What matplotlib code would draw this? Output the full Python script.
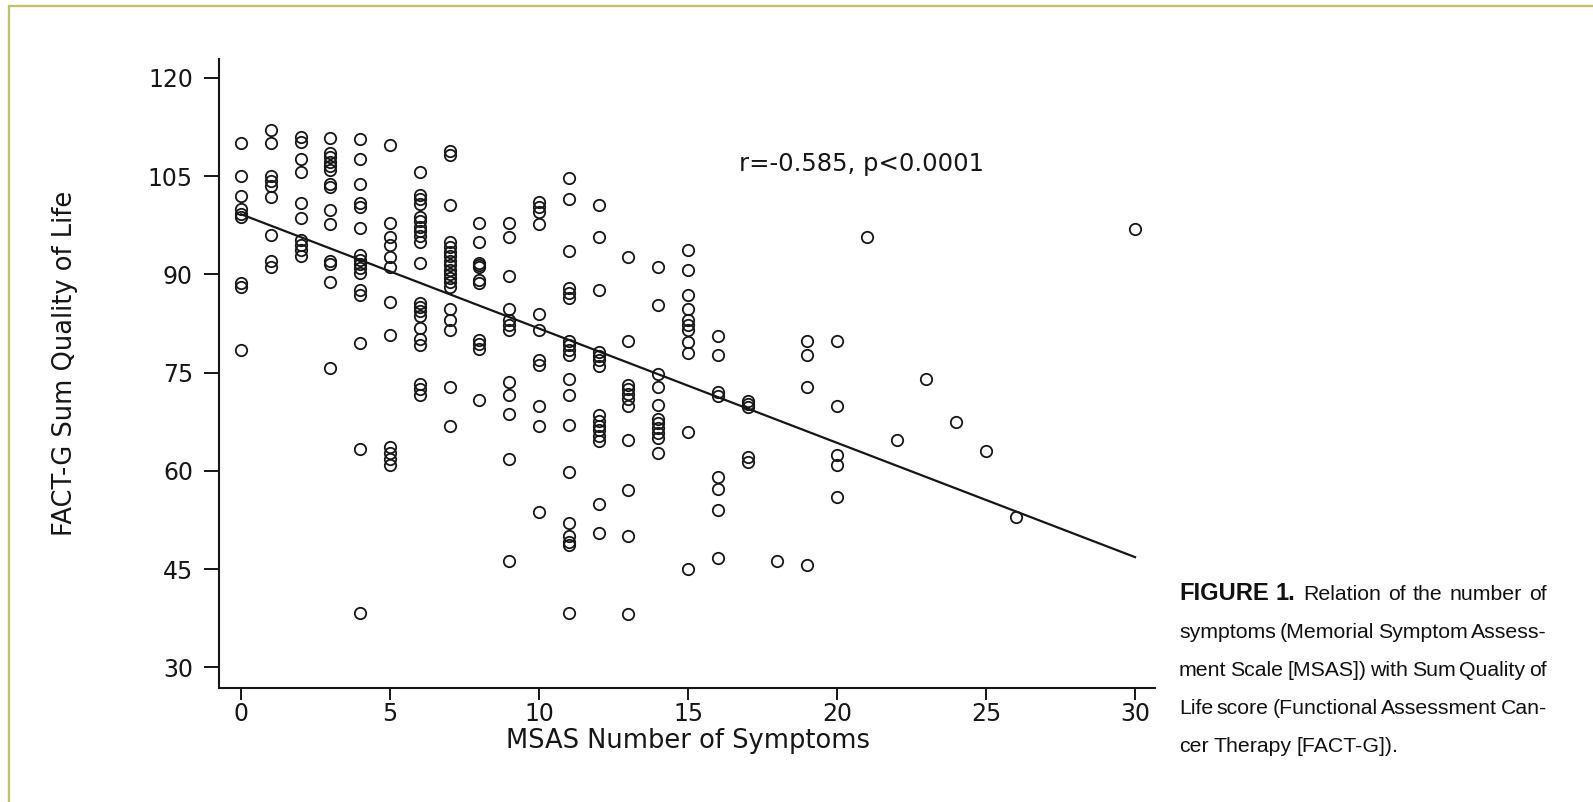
import matplotlib
matplotlib.use("Agg")
import matplotlib.pyplot as plt
from matplotlib import font_manager as fm
from matplotlib.lines import Line2D
import numpy as np

# ---------------- data ----------------
symptom_levels = [0, 1, 2, 3, 4, 5, 6, 7, 8, 9, 10, 11, 12, 13, 14, 15,
                  16, 17, 18, 19, 20, 21, 22, 23, 24, 25, 26, 30]

qol_groups = [
    [110, 105, 102, 100, 99.3, 98.8, 88.7, 88.1, 78.5],                       # 0
    [112, 110, 105, 104.3, 103.5, 101.8, 96, 92, 91.1],                       # 1
    [111, 110.2, 107.7, 105.6, 100.9, 98.7, 95.2, 94.5, 93.7, 92.8],          # 2
    [110.8, 108.5, 107.9, 107.2, 106.6, 105.9, 103.8, 103.3, 99.8, 97.7,
     92, 91.6, 88.8, 75.8],                                                   # 3
    [110.7, 107.7, 103.8, 100.9, 100.3, 97.1, 93, 92.2, 91.6, 91, 90.3,
     87.6, 86.9, 79.6, 63.4, 38.3],                                           # 4
    [109.8, 97.8, 95.8, 94.5, 92.7, 91.1, 85.8, 80.8, 63.6, 62.7, 61.8, 60.9],# 5
    [105.7, 102.1, 101.5, 100.8, 98.8, 98.1, 97.3, 96.7, 95.9, 95, 91.7,
     85.7, 85.1, 84.4, 83.7, 81.8, 80.1, 79.2, 73.3, 72.5, 71.6],             # 6
    [108.9, 108.2, 100.6, 95, 94.2, 93.5, 92.8, 92.1, 91.4, 90.7, 90, 89.4,
     88.8, 88.1, 84.7, 83.1, 81.5, 72.9, 66.9],                               # 7
    [97.8, 94.9, 91.8, 91.4, 91.1, 89.1, 88.7, 80, 79.4, 78.6, 70.8],         # 8
    [97.8, 95.7, 89.8, 84.8, 83.1, 82.3, 81.5, 73.6, 71.6, 68.7, 61.9, 46.2], # 9
    [101, 100.3, 99.6, 97.7, 84, 81.5, 77, 76.2, 69.9, 66.9, 53.8],           # 10
    [104.7, 101.6, 93.6, 87.9, 87.1, 86.4, 79.8, 79.2, 78.5, 77.7, 74, 71.6,
     67, 59.9, 52, 50, 49.2, 48.7, 38.3],                                     # 11
    [100.6, 95.7, 87.6, 78.2, 77.6, 76.9, 76.1, 68.5, 67.7, 66.9, 66.2,
     65.4, 64.6, 54.9, 50.5],                                                 # 12
    [92.7, 79.8, 73.1, 72.5, 71.8, 71, 69.9, 64.8, 57.1, 50.1, 38.2],         # 13
    [91.1, 85.3, 74.8, 72.8, 70.1, 68, 67.3, 66.5, 65.8, 65, 62.7],           # 14
    [93.7, 90.7, 86.9, 84.7, 83.1, 82.3, 81.5, 79.7, 78, 65.9, 45.1],         # 15
    [80.6, 77.7, 72.1, 71.5, 59.1, 57.2, 54, 46.7],                           # 16
    [70.7, 70.2, 69.7, 62.2, 61.4],                                           # 17
    [46.2],                                                                   # 18
    [79.8, 77.7, 72.8, 45.6],                                                 # 19
    [79.8, 69.9, 62.4, 60.9, 56.1],                                           # 20
    [95.7],                                                                   # 21
    [64.8],                                                                   # 22
    [74],                                                                     # 23
    [67.5],                                                                   # 24
    [63],                                                                     # 25
    [53],                                                                     # 26
    [96.9],                                                                   # 30
]

fit_intercept = 99.2
fit_slope = -1.745
fit_range = [0, 30]

x_ticks = [0, 5, 10, 15, 20, 25, 30]
y_ticks = [30, 45, 60, 75, 90, 105, 120]
x_label = "MSAS Number of Symptoms"
y_label = "FACT-G Sum Quality of Life"
stat_text = "r=-0.585, p<0.0001"
stat_pos = [16.7, 106.9]

caption_lead = "FIGURE 1."
caption_lines = [
    "Relation of the number of",
    "symptoms (Memorial Symptom Assess-",
    "ment Scale [MSAS]) with Sum Quality of",
    "Life score (Functional Assessment Can-",
    "cer Therapy [FACT-G]).",
]

# ---------------- figure ----------------
W, H, DPI = 1593, 802, 100
fig = plt.figure(figsize=(W / DPI, H / DPI), dpi=DPI)
fig.patch.set_facecolor("white")


def fx(px):
    return px / W


def fy(py):
    return 1 - py / H


ax_left, ax_right, ax_top, ax_bottom = 219, 1155, 59, 688
ax = fig.add_axes([fx(ax_left), fy(ax_bottom), (ax_right - ax_left) / W,
                   (ax_bottom - ax_top) / H])

ink = "#161616"
main_font = "DejaVu Sans"

xs = np.concatenate([np.full(len(g), lv) for lv, g in zip(symptom_levels, qol_groups)])
ys = np.concatenate([np.asarray(g, dtype=float) for g in qol_groups])

ax.plot(xs, ys, linestyle="none", marker="o", markersize=8.2,
        markerfacecolor="none", markeredgecolor=ink, markeredgewidth=1.3,
        zorder=3)

fx_line = np.array(fit_range, dtype=float)
ax.plot(fx_line, fit_intercept + fit_slope * fx_line, color=ink, linewidth=1.6,
        zorder=2)

ax.set_xlim(-0.74, 30.67)
ax.set_ylim(26.87, 122.9)
ax.set_xticks(x_ticks)
ax.set_yticks(y_ticks)
for s in ("top", "right"):
    ax.spines[s].set_visible(False)
for s in ("left", "bottom"):
    ax.spines[s].set_linewidth(1.5)
    ax.spines[s].set_color(ink)

ax.tick_params(axis="y", length=10.8, width=1.4, pad=8, labelsize=17,
               colors=ink, direction="out")
ax.tick_params(axis="x", length=8.6, width=1.4, pad=1.5, labelsize=17,
               colors=ink, direction="out")
for lab in ax.get_xticklabels() + ax.get_yticklabels():
    lab.set_family(main_font)

ax.text(stat_pos[0], stat_pos[1], stat_text, fontsize=17.5, family=main_font,
        color=ink, ha="left", va="center")

fig.text(fx(688), fy(741), x_label, fontsize=18.5, family=main_font, color=ink,
         ha="center", va="center")
fig.text(fx(65), fy(363), y_label, fontsize=18.5, family=main_font, color=ink,
         ha="center", va="center", rotation=90)

# ---------------- frame ----------------
frame_color = "#bec36b"
fig.add_artist(Line2D([fx(8), fx(W)], [fy(6), fy(6)], transform=fig.transFigure,
                      color=frame_color, linewidth=1.7, solid_capstyle="butt"))
fig.add_artist(Line2D([fx(9), fx(9)], [fy(5), fy(H)], transform=fig.transFigure,
                      color=frame_color, linewidth=1.7, solid_capstyle="butt"))

# ---------------- justified caption ----------------
names = {f.name for f in fm.fontManager.ttflist}
if "Liberation Sans Narrow" in names:
    cap_kw = dict(family="Liberation Sans Narrow")
    cap_size = 19.0
elif "DejaVu Sans Condensed" in names:
    cap_kw = dict(family="DejaVu Sans Condensed")
    cap_size = 16.0
else:
    cap_kw = dict(family="Liberation Sans")
    cap_size = 15.5
lead_scale = 1.12

cap_left, cap_right = 1179, 1547
cap_baselines = [600, 638, 676, 714, 752]
avail = cap_right - cap_left

fig.canvas.draw()
renderer = fig.canvas.get_renderer()


def line_words(i):
    words = [(w, "normal", 1.0) for w in caption_lines[i].split(" ")]
    if i == 0:
        words = [(w, "bold", lead_scale) for w in caption_lead.split(" ")] + words
    return words


def measure(size):
    widths_all = []
    for i in range(len(caption_lines)):
        ws = []
        for w, wt, sc in line_words(i):
            t = fig.text(0, 0, w, fontsize=size * sc, fontweight=wt, **cap_kw)
            ws.append(t.get_window_extent(renderer).width)
            t.remove()
        widths_all.append(ws)
    return widths_all


widths_all = measure(cap_size)
min_gap_ratio = 0.16
size_px = cap_size * DPI / 72
worst = max(sum(ws) + (len(ws) - 1) * min_gap_ratio * size_px for ws in widths_all[:-1])
if worst > avail:
    cap_size = cap_size * avail / worst * 0.995
    widths_all = measure(cap_size)
    size_px = cap_size * DPI / 72

for i in range(len(caption_lines)):
    words = line_words(i)
    ws = widths_all[i]
    if i < len(caption_lines) - 1 and len(ws) > 1:
        gap = (avail - sum(ws)) / (len(ws) - 1)
    else:
        gap = 0.24 * size_px
    xpos = cap_left
    for (w, wt, sc), wd in zip(words, ws):
        fig.text(fx(xpos), fy(cap_baselines[i]), w, fontsize=cap_size * sc,
                 fontweight=wt, color="#111111", ha="left", va="baseline",
                 **cap_kw)
        xpos += wd + gap

fig.savefig("out.png", dpi=DPI, facecolor="white")
